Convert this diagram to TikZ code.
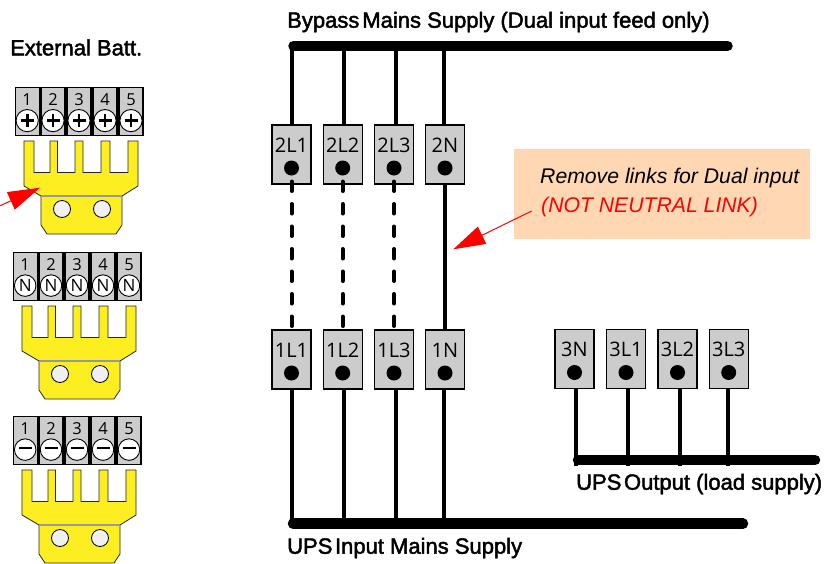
\documentclass[tikz,border=0pt]{standalone}
\usepackage{fontspec}
\usetikzlibrary{arrows.meta}
\setmainfont{Liberation Sans}
\newfontfamily\labfont{Liberation Sans}
\newfontfamily\termfont{Open Sans}
\newcommand{\heavytext}[1]{\special{pdf:code q 2 Tr 0.45 w}#1\special{pdf:code 0 Tr Q}}
\definecolor{termgrey}{HTML}{CCCCCC}
\definecolor{linkyellow}{HTML}{FCEE21}
\definecolor{noteorange}{HTML}{FFD7B3}
\definecolor{holegrey}{HTML}{F0F0F0}
\tikzset{
  termbox/.style={draw=black,line width=1.4pt,fill=termgrey,minimum width=39pt,minimum height=59pt,inner sep=0pt,outer sep=0pt},
  termtext/.style={font=\termfont\fontsize{20}{20}\selectfont,inner sep=0pt,text=black},
  pindot/.style={circle,fill=black,minimum size=15pt,inner sep=0pt},
  bus/.style={line width=10.5pt,line cap=round},
  wire/.style={line width=4pt},
  linkwire/.style={line width=4pt,line cap=round,dash pattern=on 9.5pt off 13pt},
  minibox/.style={draw=black,line width=1.3pt,fill=termgrey,minimum width=24pt,minimum height=48.5pt,inner sep=0pt,outer sep=0pt},
  minitext/.style={font=\termfont\fontsize{16.5}{16.5}\selectfont,inner sep=0pt,text=black},
  screw/.style={circle,draw=black,line width=.9pt,fill=white,minimum size=21.5pt,inner sep=0pt,font=\termfont\fontsize{17}{17}\selectfont},
  linkplate/.style={draw=black!85,line width=.8pt,fill=linkyellow},
  hole/.style={circle,draw=black,line width=.8pt,fill=holegrey,minimum size=17pt,inner sep=0pt},
  caption/.style={font=\labfont\fontsize{22}{22}\selectfont,inner sep=0pt,anchor=west,text=black},
  notetext/.style={font=\itshape\fontsize{21.2}{22}\selectfont,inner sep=0pt,anchor=west},
  redarrow/.style={draw=red,line width=1pt,-{Triangle[length=32pt,width=19pt,fill=red]}}
}
% name, centre x, centre y of box, label
\newcommand{\bigterm}[4]{%
  \node[termbox] (#1) at (#2,#3) {};
  \node[termtext] (#1t) at (#2,#3-9.5) {#4};
  \node[pindot] (#1d) at (#2,#3+13.5) {};
}
% group: name, dx, dy, kind
\newcommand{\battgroup}[4]{%
  \begin{scope}[shift={(#2,#3)}]
    \foreach \n/\cx in {1/27.2,2/53,3/79,4/105,5/131}{
      \node[minibox] (#1box\n) at (\cx,111.5) {};
      \node[minitext] (#1num\n) at (\cx,99.5) {\n};
      \node[screw] (#1scr\n) at (\cx,120.6) {#4};
    }
    \draw[linkplate] (24,141) -- (34,141) -- (34,172.5) -- (50,172.5) -- (50,141) -- (57.5,141) -- (57.5,172.5) -- (75,172.5) -- (75,141) -- (83,141) -- (83,172.5) -- (101,172.5) -- (101,141) -- (110,141) -- (110,172.5) -- (128,172.5) -- (128,141) -- (138,141) -- (138,186) -- (122,196) -- (122,225) -- (116,234) -- (47,234) -- (41,225) -- (41,196) -- (24,186) -- cycle;
    \draw[black!40,line width=1.4pt] (41,196) -- (122,196);
    \node[hole] (#1h1) at (62,209) {};
    \node[hole] (#1h2) at (102,209) {};
  \end{scope}
}
\newcommand{\plussym}{\tikz[baseline=-.5ex]{\draw[line width=2.7pt] (-6.5pt,0)--(6.5pt,0) (0,-6.5pt)--(0,6.5pt);}}
\newcommand{\minussym}{\tikz[baseline=-.5ex]{\draw[line width=2.8pt] (-6.5pt,0)--(6.5pt,0);}}
\begin{document}
\begin{tikzpicture}[x=1pt,y=-1pt]
\clip[use as bounding box] (0,0) rectangle (828,563);
\fill[white] (0,0) rectangle (828,563);

% captions
\node[caption] (capext) at (10,47.5) {\heavytext{External Batt.}};
\node[caption] (captop) at (287,22) {\heavytext{Bypass\hspace{-.14em} Mains Supply (Dual input feed only)}};
\node[caption] (capin) at (287,548) {\heavytext{UPS\hspace{-.16em} Input Mains Supply}};
\node[caption] (capout) at (576,484) {\heavytext{UPS\hspace{-.16em} Output (load supply)}};

% note
\node[fill=noteorange,minimum width=296pt,minimum height=90.5pt,inner sep=0pt] (note) at (662,194.2) {};
\node[notetext] (note1) at (540,178) {Remove links for Dual input};
\node[notetext,text=red] (note2) at (541,207) {(NOT NEUTRAL LINK)};

% bus coordinates
\coordinate (topL) at (293.5,46);
\coordinate (topR) at (727.5,46);
\coordinate (botL) at (293,523.7);
\coordinate (botR) at (743,523.7);
\coordinate (outL) at (578,460);
\coordinate (outR) at (815,460);
\coordinate (t1) at (291.7,46);
\coordinate (t2) at (344,46);
\coordinate (t3) at (396.3,46);
\coordinate (t4) at (443.7,46);
\coordinate (b1) at (291.7,523.7);
\coordinate (b2) at (344,523.7);
\coordinate (b3) at (396.3,523.7);
\coordinate (b4) at (443.7,523.7);
\coordinate (o1) at (576,466);
\coordinate (o2) at (628.3,466);
\coordinate (o3) at (680,466);
\coordinate (o4) at (727.7,466);

% boxes
\bigterm{2L1}{291.5}{154.5}{2L1}
\bigterm{2L2}{342.7}{154.5}{2L2}
\bigterm{2L3}{394}{154.5}{2L3}
\bigterm{2N}{445}{154.5}{2N}
\bigterm{1L1}{291.5}{359.5}{1L1}
\bigterm{1L2}{342.7}{359.5}{1L2}
\bigterm{1L3}{394}{359.5}{1L3}
\bigterm{1N}{445}{359.5}{1N}
\bigterm{3N}{574.5}{359}{3N}
\bigterm{3L1}{626}{359}{3L1}
\bigterm{3L2}{677.5}{359}{3L2}
\bigterm{3L3}{728.7}{359}{3L3}

% wires
\foreach \c/\n in {t1/2L1,t2/2L2,t3/2L3,t4/2N}{\draw[wire] (\c) -- (\c |- \n.north);}
\foreach \c/\n in {b1/1L1,b2/1L2,b3/1L3,b4/1N}{\draw[wire] (\c) -- (\c |- \n.south);}
\foreach \c/\n in {o1/3N,o2/3L1,o3/3L2,o4/3L3}{\draw[wire] (\c) -- (\c |- \n.south);}
\draw[linkwire] ([yshift=2.5pt]2L1.south) -- (1L1.north);
\draw[linkwire] ([yshift=2.5pt]2L2.south) -- (1L2.north);
\draw[linkwire] ([yshift=2.5pt]2L3.south) -- (1L3.north);
\draw[wire] (2N.south) -- (1N.north);

% buses
\draw[bus] (topL) -- (topR);
\draw[bus] (botL) -- (botR);
\draw[bus] (outL) -- (outR);

% battery groups
\battgroup{pos}{0}{0}{\plussym}
\battgroup{neu}{-2}{165}{N}
\battgroup{neg}{-2}{329}{\minussym}

% red arrows
\coordinate (ar1s) at (531.7,211);
\coordinate (ar1e) at (453.3,249.3);
\draw[redarrow] (ar1s) -- (ar1e);
\coordinate (ar2s) at (-5,208);
\coordinate (ar2e) at (40,187.7);
\draw[redarrow] (ar2s) -- (ar2e);
\end{tikzpicture}
\end{document}
